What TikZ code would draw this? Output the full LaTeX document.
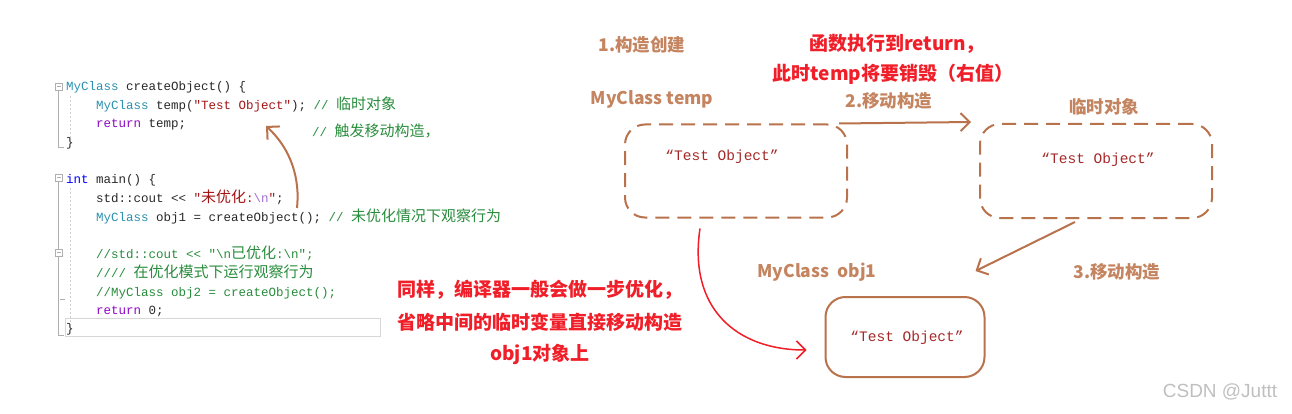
\documentclass[tikz,border=0pt]{standalone}
\usepackage{fontspec}
\usetikzlibrary{arrows.meta}
\setmainfont{Liberation Sans}
\newfontfamily\cjk{Noto Sans CJK SC}
\newfontfamily\codefont{Liberation Mono}
\definecolor{codeink}{RGB}{40,40,40}
\definecolor{typecol}{RGB}{43,145,175}
\definecolor{intcol}{RGB}{0,0,255}
\definecolor{retcol}{RGB}{143,8,196}
\definecolor{strcol}{RGB}{163,21,21}
\definecolor{cmtcol}{RGB}{40,140,60}
\definecolor{esccol}{RGB}{160,110,210}
\definecolor{guttergray}{RGB}{175,175,175}
\definecolor{labelbrown}{RGB}{196,132,96}
\definecolor{linebrown}{RGB}{184,114,76}
\definecolor{notered}{RGB}{240,30,40}
\definecolor{valred}{RGB}{165,40,40}
\newcommand\zh[1]{{\cjk\fontsize{15}{16}\selectfont #1}}
\newcommand\typ[1]{\textcolor{typecol}{#1}}
\newcommand\cmt[1]{\textcolor{cmtcol}{#1}}

\begin{document}
\begin{tikzpicture}[x=1pt,y=-1pt,
  codeline/.style={anchor=base west, inner sep=0pt, font=\codefont\fontsize{12.5}{14}\selectfont, text=codeink},
  brownlabel/.style={font=\cjk\bfseries\fontsize{17.5}{20}\selectfont, text=labelbrown, inner sep=0pt},
  rednote/.style={font=\cjk\bfseries\fontsize{19}{22}\selectfont, text=notered, inner sep=0pt},
  objbox/.style={draw=linebrown, line width=2pt, rounded corners=20pt, inner sep=0pt},
  dashedbox/.style={objbox, dash pattern=on 14pt off 8pt},
  objval/.style={font=\codefont\fontsize{14.5}{16}\selectfont, text=valred, inner sep=0pt},
  barb/.style={-{Straight Barb[length=9pt,width=18pt]}, line width=2pt, draw=linebrown}]
\useasboundingbox (0,0) rectangle (1292,414);

\draw[guttergray, line width=0.7pt] (55,83) rectangle (62,90);
\draw[guttergray, line width=0.7pt] (56.5,86.5) -- (60.5,86.5);
\draw[guttergray, line width=1pt] (58.5,90) -- (58.5,148) -- (64,148);
\draw[guttergray, line width=0.7pt] (55,174) rectangle (62,181);
\draw[guttergray, line width=0.7pt] (56.5,177.5) -- (60.5,177.5);
\draw[guttergray, line width=1pt] (58.5,181) -- (58.5,249);
\draw[guttergray, line width=0.7pt] (55,249) rectangle (62,256);
\draw[guttergray, line width=0.7pt] (56.5,252.5) -- (60.5,252.5);
\draw[guttergray, line width=1pt] (58.5,256) -- (58.5,335) -- (64,335);
\draw[guttergray, line width=1pt] (60,299) -- (65,299);
\draw[guttergray!60, line width=1pt, dash pattern=on 2pt off 2pt] (70,96) -- (70,140);
\draw[guttergray!60, line width=1pt, dash pattern=on 2pt off 2pt] (70,188) -- (70,322);
\draw[guttergray!50, line width=0.8pt] (65,318) rectangle (380,336);

\node[codeline] (l1) at (66,91) {\typ{MyClass} createObject() \{};
\node[codeline] (l2) at (96,110) {\typ{MyClass} temp(\textcolor{strcol}{"Test Object"}); \cmt{// \zh{临时对象}}};
\node[codeline] (l3) at (96,128) {\textcolor{retcol}{return} temp;};
\node[codeline] (l3c) at (312,137) {\cmt{// \zh{触发移动构造，}}};
\node[codeline] (l4) at (66,147) {\}};
\node[codeline] (l5) at (66,183) {\textcolor{intcol}{int} main() \{};
\node[codeline] (l6) at (96,203) {std::cout << \textcolor{strcol}{"\zh{未优化}:\textcolor{esccol}{\textbackslash n}"};};
\node[codeline] (l7) at (96,221) {\typ{MyClass} obj1 = createObject(); \cmt{// \zh{未优化情况下观察行为}}};
\node[codeline] (l8) at (96,258) {\cmt{//std::cout << "\textbackslash n\zh{已优化}:\textbackslash n";}};
\node[codeline] (l9) at (96,277) {\cmt{//// \zh{在优化模式下运行观察行为}}};
\node[codeline] (l10) at (96,296) {\cmt{//MyClass obj2 = createObject();}};
\node[codeline] (l11) at (96,314) {\textcolor{retcol}{return} 0;};
\node[codeline] (l12) at (66,332) {\}};

\coordinate (callsite) at (297,208);
\coordinate (tempdecl) at (266,126);
\draw[barb] (callsite) .. controls (300,180) and (292,150) .. (tempdecl);

\node[brownlabel] (step1) at (642,45) {1.构造创建};
\node[brownlabel] (tempname) at (652,99) {MyClass temp};
\node[rednote] (note1) at (897,44) {函数执行到return，};
\node[rednote] (note2) at (893,74) {此时temp将要销毁（右值）};
\node[brownlabel] (step2) at (889,101) {2.移动构造};
\node[brownlabel] (tmplabel) at (1104,107) {临时对象};
\node[brownlabel] (step3) at (1117,272) {3.移动构造};
\node[brownlabel] (objname) at (817,272) {MyClass\ \ obj1};

\node[dashedbox, minimum width=222pt, minimum height=93pt] (box1) at (736,171) {};
\node[dashedbox, minimum width=232pt, minimum height=94pt] (box2) at (1096,171) {};
\node[objbox, minimum width=159pt, minimum height=80pt] (box3) at (905,337) {};
\node[objval] (val1) at (722,157) {“Test Object”};
\node[objval] (val2) at (1098,160) {“Test Object”};
\node[objval] (val3) at (907,338) {“Test Object”};

\draw[barb] ([xshift=-9pt]box1.north east) -- ([xshift=-8pt,yshift=1pt]box2.north west);
\draw[barb] ([xshift=-21pt,yshift=-3pt]box2.south) -- ([xshift=-10pt,yshift=25pt]box3.north east);
\draw[barb, draw=notered, line width=1.5pt] ([xshift=-36pt,yshift=-10pt]box1.south) .. controls +(-12,80) and +(-70,0) .. ([xshift=-18pt,yshift=-13pt]box3.west);

\node[rednote] (opt1) at (540,290) {同样，编译器一般会做一步优化，};
\node[rednote] (opt2) at (540,322) {省略中间的临时变量直接移动构造};
\node[rednote] (opt3) at (540,354) {obj1对象上};

\node[font=\fontsize{19}{21}\selectfont, text=black!25, inner sep=0pt] (mark) at (1220,392) {CSDN @Juttt};
\end{tikzpicture}
\end{document}
